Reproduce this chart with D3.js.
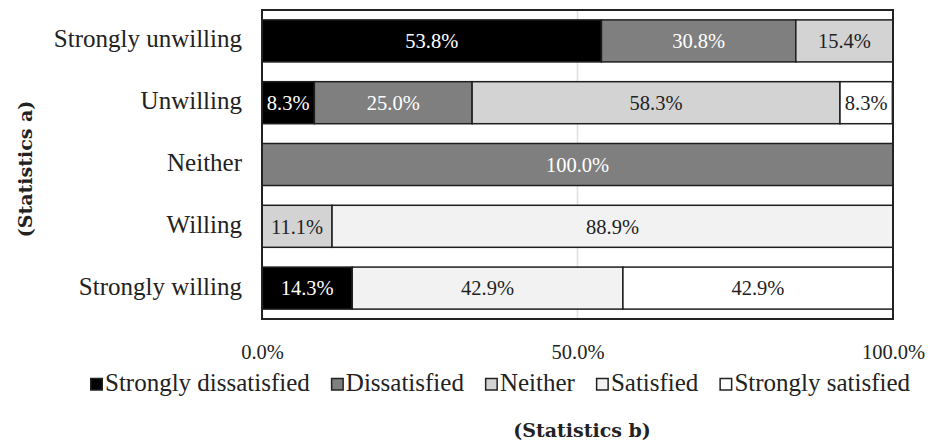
<!DOCTYPE html>
<html><head><meta charset="utf-8">
<script src="https://cdn.jsdelivr.net/npm/d3@7"></script>
<style>
html,body{margin:0;padding:0;background:#fff;}
svg text{font-family:"Liberation Serif",serif;}
svg text.title{font-family:"DejaVu Serif",serif;font-weight:bold;}
</style></head>
<body><svg id="chart" width="934" height="447"></svg>
<script>
const categories = ["Strongly unwilling","Unwilling","Neither","Willing","Strongly willing"];
const seriesNames = ["Strongly dissatisfied","Dissatisfied","Neither","Satisfied","Strongly satisfied"];
const stronglyDissatisfied = [53.8, 8.3, 0, 0, 14.3];
const dissatisfied = [30.8, 25.0, 100.0, 0, 0];
const neither = [15.4, 58.3, 0, 11.1, 0];
const satisfied = [0, 0, 0, 88.9, 42.9];
const stronglySatisfied = [0, 8.3, 0, 0, 42.9];
const xTicks = [0, 50, 100];
const colors = ["#000000","#7f7f7f","#d3d3d3","#f2f2f2","#ffffff"];
const labelColors = ["#ffffff","#ffffff","#222222","#222222","#222222"];

const seriesValues = [stronglyDissatisfied, dissatisfied, neither, satisfied, stronglySatisfied];
const rows = categories.map((c,i)=>{
  const r = {category:c};
  seriesNames.forEach((s,j)=> r[s] = seriesValues[j][i]);
  return r;
});
const stacked = d3.stack().keys(seriesNames)(rows);

const svg = d3.select("#chart");
const L = 262, R = 893, T = 10, B = 319;
const FS = 25;     // words
const NS = 20.5;   // numbers

const x = d3.scaleLinear().domain([0,100]).range([L,R]);
const y = d3.scaleBand().domain(categories).range([T,B]).paddingInner(0.32).paddingOuter(0.16);

// gridline at 50%
svg.append("line").attr("x1",x(50)).attr("x2",x(50)).attr("y1",T).attr("y2",B)
  .attr("stroke","#e0e0e0").attr("stroke-width",1.5);

// bars
const groups = svg.append("g").selectAll("g").data(stacked).join("g")
  .attr("fill",(d,i)=>colors[i]);
groups.selectAll("rect").data(d=>d.filter(p=>p[1]-p[0]>0)).join("rect")
  .attr("x",d=>x(d[0]))
  .attr("y",d=>y(d.data.category))
  .attr("width",d=>Math.min(x(d[1]),R)-x(d[0]))
  .attr("height",y.bandwidth())
  .attr("stroke","#1e1e1e").attr("stroke-width",1.5);

// labels
stacked.forEach((s,i)=>{
  svg.append("g").selectAll("text").data(s.filter(p=>p[1]-p[0]>0)).join("text")
    .attr("x",d=>(x(d[0])+Math.min(x(d[1]),R))/2)
    .attr("y",d=>y(d.data.category)+y.bandwidth()/2)
    .attr("dy","0.36em")
    .attr("text-anchor","middle")
    .attr("font-size",NS)
    .attr("fill",labelColors[i])
    .text(d=>(d[1]-d[0]).toFixed(1)+"%");
});

// frame
svg.append("rect").attr("x",L).attr("y",T).attr("width",R-L).attr("height",B-T)
  .attr("fill","none").attr("stroke","#222").attr("stroke-width",2);

// x axis
const xAxis = svg.append("g").attr("transform",`translate(0,${B})`)
  .call(d3.axisBottom(x).tickValues(xTicks).tickSize(0).tickFormat(d=>d.toFixed(1)+"%"));
xAxis.select(".domain").remove();
xAxis.selectAll("text").attr("y",40).attr("dy",null)
  .attr("font-size",NS).attr("fill","#222").attr("font-family",null);

// y axis
const yAxis = svg.append("g").attr("transform",`translate(${L},0)`)
  .call(d3.axisLeft(y).tickSize(0).tickPadding(20));
yAxis.select(".domain").remove();
yAxis.selectAll("text").attr("dy","0.26em")
  .attr("font-size",FS).attr("fill","#222").attr("font-family",null);

// legend
const leg = svg.append("g").attr("transform","translate(90,384)");
let lx = 0;
seriesNames.forEach((s,i)=>{
  const g = leg.append("g").attr("transform",`translate(${lx},0)`);
  g.append("rect").attr("x",0.75).attr("y",-5.5).attr("width",11.5).attr("height",11.5)
    .attr("fill",colors[i]).attr("stroke","#222").attr("stroke-width",1.5);
  const t = g.append("text").attr("x",15).attr("y",6.5).attr("font-size",FS)
    .attr("fill","#222").text(s);
  lx += 15 + t.node().getComputedTextLength() + 21;
});

// axis titles
svg.append("text").attr("class","title").attr("x",582).attr("y",437).attr("text-anchor","middle")
  .attr("font-size",19).attr("fill","#222").text("(Statistics b)");
svg.append("text").attr("class","title").attr("transform","translate(32,169) rotate(-90)").attr("text-anchor","middle")
  .attr("font-size",19).attr("fill","#222").text("(Statistics a)");
</script></body></html>
